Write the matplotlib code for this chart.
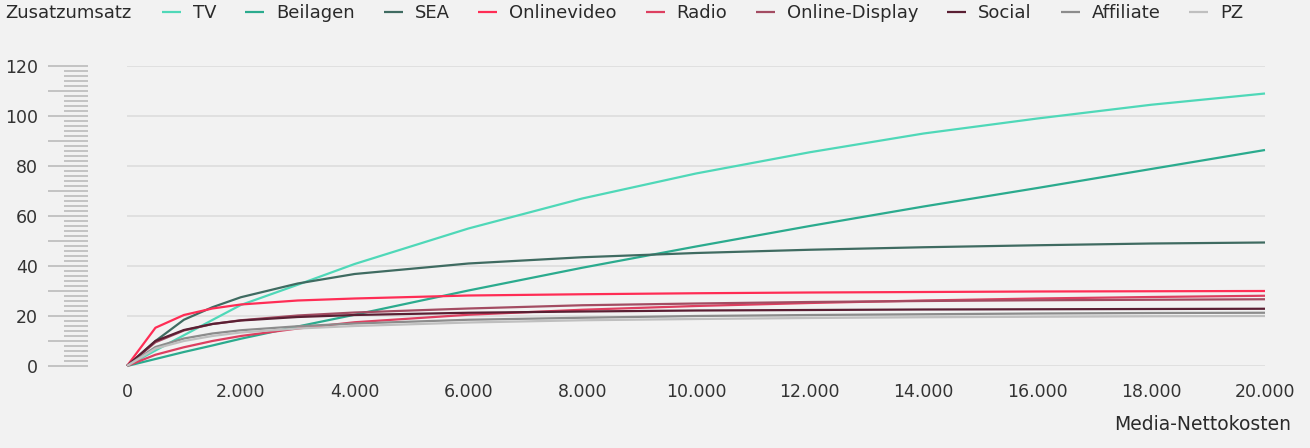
import matplotlib
matplotlib.use("Agg")
import matplotlib.pyplot as plt
import numpy as np

# ---- data ----
costs = [0, 500, 1000, 1500, 2000, 3000, 4000, 6000, 8000, 10000, 12000, 14000, 16000, 18000, 20000]
series_names = ["TV", "Beilagen", "SEA", "Onlinevideo", "Radio", "Online-Display", "Social", "Affiliate", "PZ"]
tv = [0, 6.2, 12.3, 18.4, 24.4, 32.5, 40.8, 55, 67, 77, 85.5, 93, 99, 104.5, 109]
beilagen = [0, 2.8, 5.6, 8.2, 10.9, 15.8, 20.5, 30.2, 39.3, 47.8, 56, 63.8, 71.2, 78.8, 86.4]
sea = [0, 10, 18.5, 23.5, 27.5, 33, 36.8, 41, 43.5, 45.2, 46.5, 47.5, 48.3, 49, 49.4]
onlinevideo = [0, 15.3, 20.4, 23, 24.6, 26.2, 27, 28.2, 28.7, 29.1, 29.4, 29.6, 29.8, 29.9, 30]
radio = [0, 4.5, 7.5, 10, 12, 15, 17.5, 20.5, 22.5, 24, 25.2, 26.2, 27, 27.6, 28.1]
online_display = [0, 9.5, 14.2, 16.8, 18.3, 20.2, 21.4, 23, 24.3, 25, 25.6, 26, 26.3, 26.5, 26.7]
social = [0, 10, 14.4, 16.8, 18.2, 19.6, 20.4, 21.3, 21.8, 22.2, 22.4, 22.6, 22.7, 22.8, 22.9]
affiliate = [0, 7.6, 11, 13, 14.3, 15.9, 17, 18.5, 19.3, 20, 20.4, 20.7, 21, 21.2, 21.3]
pz = [0, 7, 10, 12, 13.4, 15, 16, 17.4, 18.3, 18.8, 19.2, 19.5, 19.7, 19.9, 20]
series_values = [tv, beilagen, sea, onlinevideo, radio, online_display, social, affiliate, pz]
colors = ["#4fd8b8", "#2bab8e", "#3f6b61", "#ff2d55", "#dd3f60", "#a34c62", "#5a1f33", "#8c8c8c", "#bfbfbf"]

x_ticks = list(range(0, 20001, 2000))
x_ticklabels = ["0", "2.000", "4.000", "6.000", "8.000", "10.000", "12.000", "14.000", "16.000", "18.000", "20.000"]
y_ticks = [0, 20, 40, 60, 80, 100, 120]
ruler_minor = list(range(0, 121, 2))
ruler_major = list(range(0, 121, 10))

BG = "#f2f2f2"
W, H = 1310, 448
fig = plt.figure(figsize=(W / 100, H / 100), dpi=100, facecolor=BG)

def fx(px):
    return px / W

def fy(py):
    return 1 - py / H

ax_left, ax_right, ax_top, ax_bot = 127, 1265, 66, 366
ax = fig.add_axes([fx(ax_left), fy(ax_bot), fx(ax_right - ax_left), (ax_bot - ax_top) / H])
ax.set_facecolor(BG)
for s in ax.spines.values():
    s.set_visible(False)

for name, vals, c in zip(series_names, series_values, colors):
    ax.plot(costs, vals, color=c, lw=1.6, label=name, clip_on=False, solid_capstyle="butt", zorder=3)

ax.set_xlim(0, 20000)
ax.set_ylim(0, 120)
ax.set_yticks(y_ticks)
ax.set_yticklabels([str(v) for v in y_ticks])
ax.set_xticks(x_ticks)
ax.set_xticklabels(x_ticklabels)
ax.tick_params(axis="y", length=0, pad=64, labelsize=12.5, labelcolor="#333333")
ax.tick_params(axis="x", length=0, pad=12, labelsize=12.5, labelcolor="#333333")
ax.grid(axis="y", color="#e0e0e0", lw=1.4, zorder=0)
ax.set_axisbelow(True)

# ruler ticks on the left
axr = fig.add_axes([fx(48), fy(ax_bot), fx(40), (ax_bot - ax_top) / H])
axr.set_xlim(0, 1)
axr.set_ylim(0, 120)
axr.axis("off")
minor_only = [v for v in ruler_minor if v not in ruler_major]
axr.hlines(minor_only, 0.4, 1, color="#c0c0c0", lw=1.3, clip_on=False)
axr.hlines(ruler_major, 0, 1, color="#c0c0c0", lw=1.3, clip_on=False)

# texts
fig.text(fx(5), fy(13), "Zusatzumsatz", fontsize=13, color="#2a2a2a", va="center", ha="left")
fig.text(fx(1291), fy(424), "Media-Nettokosten", fontsize=13.5, color="#2a2a2a", va="center", ha="right")

handles, labels = ax.get_legend_handles_labels()
leg = fig.legend(handles, labels, loc="center left", bbox_to_anchor=(fx(162), fy(13)),
                 ncol=9, frameon=False, fontsize=13, handlelength=1.05, handletextpad=0.66,
                 columnspacing=1.6, borderpad=0, borderaxespad=0)
for t in leg.get_texts():
    t.set_color("#2a2a2a")

fig.savefig("out.png", dpi=100, facecolor=BG)
